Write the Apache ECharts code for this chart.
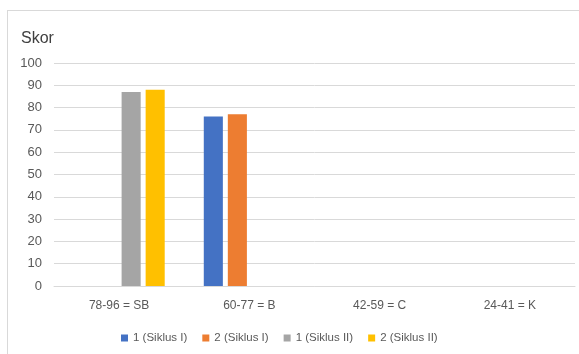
<!DOCTYPE html>
<html>
<head>
<meta charset="utf-8">
<script src="https://cdn.jsdelivr.net/npm/echarts@6/dist/echarts.min.js"></script>
<style>
  html, body { margin: 0; padding: 0; background: #fff; }
  #frame { position: absolute; left: 7px; top: 10px; width: 580px; height: 350px; border: 1px solid #d9d9d9; box-sizing: border-box; }
  #main { position: absolute; left: 0; top: 0; width: 579px; height: 354px; }
</style>
</head>
<body>
<div id="frame"></div>
<div id="main"></div>
<script>
// kategori skor
var categories = ['78-96 = SB', '60-77 = B', '42-59 = C', '24-41 = K'];
var seriesNames = ['1 (Siklus I)', '2 (Siklus I)', '1 (Siklus II)', '2 (Siklus II)'];
var siklus1a = [0, 76, 0, 0];
var siklus1b = [0, 77, 0, 0];
var siklus2a = [87, 0, 0, 0];
var siklus2b = [88, 0, 0, 0];
var yTicks = [0, 100, 10];
var colors = ['#4472C4', '#ED7D31', '#A5A5A5', '#FFC000'];

var font = 'Liberation Sans, Arial, sans-serif';
var allData = [siklus1a, siklus1b, siklus2a, siklus2b];
var series = [];
for (var i = 0; i < allData.length; i++) {
    series.push({
        name: seriesNames[i],
        type: 'bar',
        data: allData[i],
        barGap: '26%',
        barCategoryGap: '30%',
        itemStyle: { color: colors[i] }
    });
}

var myChart = echarts.init(document.getElementById('main'));
var option = {
    animation: false,
    color: colors,
    title: {
        text: 'Skor',
        left: 16,
        top: 26,
        textStyle: { fontFamily: font, fontSize: 16, fontWeight: 'normal', color: '#404040' }
    },
    legend: {
        data: seriesNames,
        bottom: 5,
        left: 116,
        icon: 'rect',
        itemWidth: 7,
        itemHeight: 7,
        itemGap: 15,
        textStyle: { fontFamily: font, fontSize: 11.5, color: '#595959' }
    },
    grid: { left: 54, right: 4, top: 63, bottom: 68, containLabel: false },
    xAxis: {
        type: 'category',
        data: categories,
        axisLine: { lineStyle: { color: '#d9d9d9' } },
        axisTick: { show: false },
        axisLabel: { fontFamily: font, fontSize: 12, color: '#595959', margin: 14 }
    },
    yAxis: {
        type: 'value',
        min: yTicks[0],
        max: yTicks[1],
        interval: yTicks[2],
        axisLine: { show: false },
        axisTick: { show: false },
        splitLine: { lineStyle: { color: '#d9d9d9' } },
        axisLabel: { fontFamily: font, fontSize: 13, color: '#595959', margin: 12 }
    },
    series: series
};
myChart.setOption(option);
</script>
</body>
</html>
